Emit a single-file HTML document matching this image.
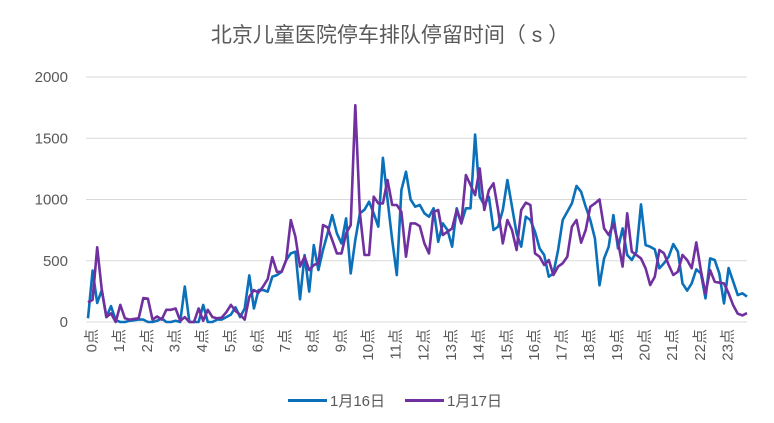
<!DOCTYPE html>
<html><head><meta charset="utf-8">
<style>
html,body{margin:0;padding:0;background:#fff;}
svg{display:block;font-family:"Liberation Sans","Noto Sans CJK SC",sans-serif;}
</style></head>
<body>
<svg id="chart" width="774" height="423" viewBox="0 0 774 423" xmlns="http://www.w3.org/2000/svg">
<text x="390" y="42" text-anchor="middle" font-size="21" fill="#595959">北京儿童医院停车排队停留时间（ s ）</text>
<g id="grid"></g>
<g id="yticks"></g>
<g id="xticks"></g>
<g id="series"></g>
<g>
  <g>
    <line x1="288" y1="400.5" x2="327" y2="400.5" stroke="#0A70BA" stroke-width="3"/>
    <text x="330" y="406" font-size="15" fill="#595959">1月16日</text>
  </g>
  <g>
    <line x1="405" y1="400.5" x2="444" y2="400.5" stroke="#7030A0" stroke-width="3"/>
    <text x="447" y="406" font-size="15" fill="#595959">1月17日</text>
  </g>
</g>
</svg>
<script>
const hourLabels = ["0点","1点","2点","3点","4点","5点","6点","7点","8点","9点","10点","11点","12点","13点","14点","15点","16点","17点","18点","19点","20点","21点","22点","23点"];
const yTicks = [0,500,1000,1500,2000];
const jan16 = [30,420,155,260,40,130,15,0,0,10,
15,20,20,0,0,10,30,0,0,10,
0,290,0,0,0,140,0,0,20,20,
40,60,120,40,110,380,110,260,
261,248,370,383,410,506,560,574,185,547,248,628,
424,588,723,873,723,642,846,397,669,887,
917,982,887,778,1340,1000,669,383,1077,1227,
1000,941,955,887,860,928,655,
805,751,615,928,805,928,928,1530,1023,955,
1023,751,778,914,1159,941,723,615,860,833,737,601,547,
370,397,588,833,900,968,1110,1064,941,833,683,
300,519,615,873,601,764,547,506,574,
960,628,615,593,438,479,533,636,574,315,
256,315,430,397,193,519,506,397,152,440,330,220,234,207];
const jan17 = [160,180,610,260,40,70,0,140,30,20,
25,30,195,190,20,45,20,100,100,110,
10,40,0,0,110,10,100,40,30,35,
80,140,90,60,20,205,260,240,
290,350,530,410,410,506,833,696,452,533,424,465,
479,791,772,669,560,560,723,791,1770,887,
547,547,1023,968,968,1159,955,955,900,533,
805,805,782,642,560,900,914,
710,737,764,914,805,1200,1118,1036,1254,914,
1077,1132,914,642,833,751,588,914,974,955,560,533,465,
506,384,452,479,533,778,833,647,751,941,968,
1000,764,710,800,655,452,887,574,547,
519,438,302,370,588,561,465,384,411,547,
506,438,650,420,230,424,329,321,315,234,136,68,54,73];

const NS = "http://www.w3.org/2000/svg";
const X0 = 88, X1 = 747, Y0 = 322, Y1 = 77, YMAX = 2000;
const N = jan16.length;
function xScale(i){ return X0 + i * (X1 - X0) / (N - 1); }
function yScale(v){ return Y0 - v * (Y0 - Y1) / YMAX; }
function hourX(h){ return X0 + 4 + h * (X1 - X0) / (N - 1) * 6; }

const grid = document.getElementById('grid');
const yt = document.getElementById('yticks');
yTicks.forEach(t => {
  const l = document.createElementNS(NS,'line');
  
  
  l.setAttribute('x1', 86); l.setAttribute('x2', X1);
  l.setAttribute('y1', yScale(t)); l.setAttribute('y2', yScale(t));
  l.setAttribute('stroke', '#d9d9d9'); l.setAttribute('stroke-width', '1');
  grid.appendChild(l);
  const tx = document.createElementNS(NS,'text');
  
  
  tx.setAttribute('x', 68); tx.setAttribute('y', yScale(t) + 5);
  tx.setAttribute('text-anchor', 'end'); tx.setAttribute('font-size', '15'); tx.setAttribute('fill', '#595959');
  tx.textContent = t;
  yt.appendChild(tx);
});

const xt = document.getElementById('xticks');
hourLabels.forEach((lab, h) => {
  const tx = document.createElementNS(NS,'text');
  
  
  const x = hourX(h), y = 329;
  tx.setAttribute('x', x); tx.setAttribute('y', y);
  tx.setAttribute('transform', 'rotate(-90 ' + x + ' ' + y + ')');
  tx.setAttribute('text-anchor', 'end'); tx.setAttribute('dominant-baseline', 'central');
  tx.setAttribute('font-size', '15'); tx.setAttribute('fill', '#595959');
  tx.textContent = lab;
  xt.appendChild(tx);
});

const ser = document.getElementById('series');
function drawLine(data, color, name){
  const p = document.createElementNS(NS,'polyline');
  
  
  p.setAttribute('points', data.map((v,i) => xScale(i).toFixed(1) + ',' + yScale(v).toFixed(1)).join(' '));
  p.setAttribute('fill', 'none'); p.setAttribute('stroke', color);
  p.setAttribute('stroke-width', '2.6'); p.setAttribute('stroke-linejoin', 'round');
  ser.appendChild(p);
}
drawLine(jan16, '#0A70BA', 'series-jan16-line');
drawLine(jan17, '#7030A0', 'series-jan17-line');
</script>
</body></html>
